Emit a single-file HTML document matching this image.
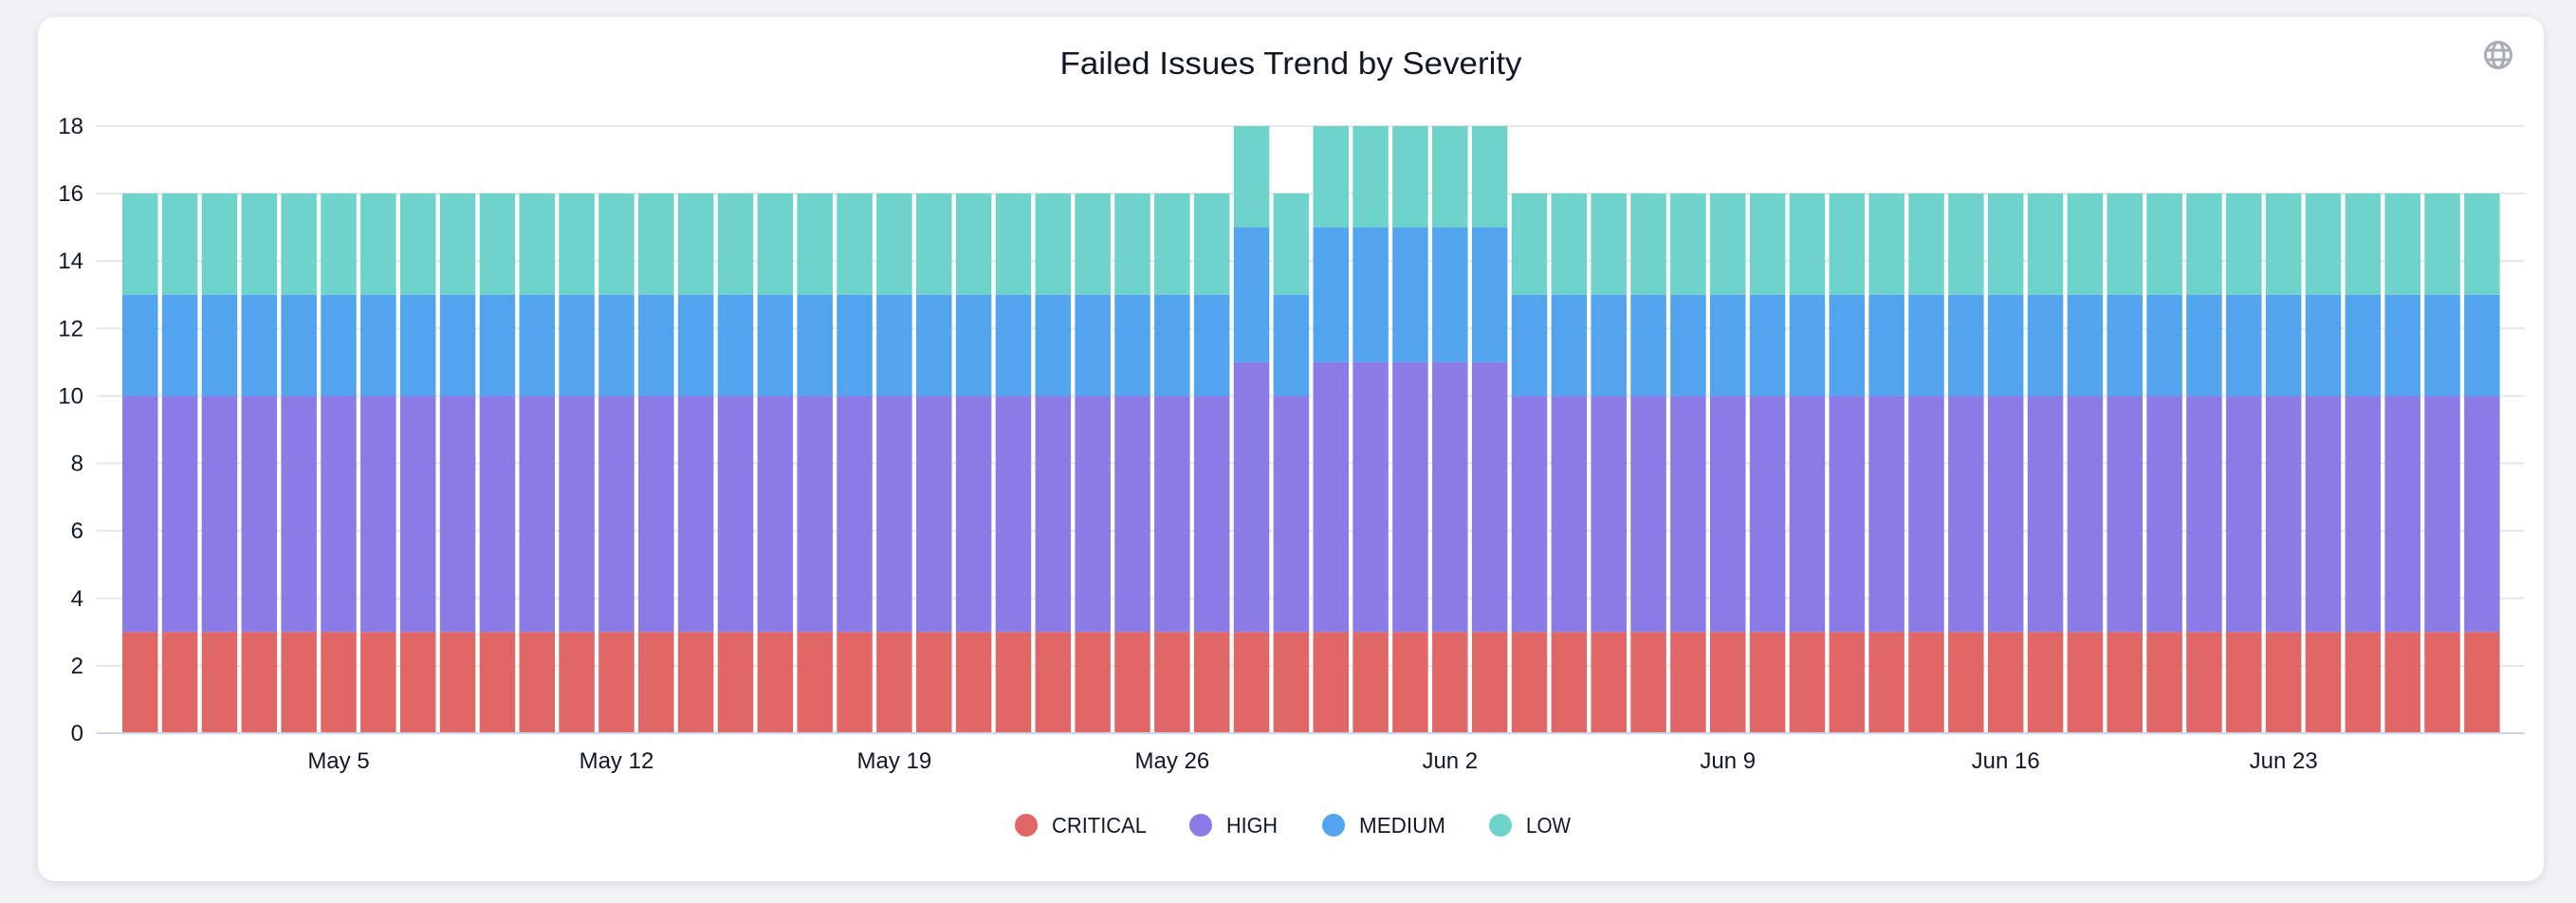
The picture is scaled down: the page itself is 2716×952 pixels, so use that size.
<!DOCTYPE html>
<html><head><meta charset="utf-8"><style>
html,body{margin:0;padding:0;width:2716px;height:952px;background:#f1f2f3;overflow:hidden}
#card{position:absolute;left:40px;top:18px;width:2642px;height:911px;background:#fff;border-radius:18px;box-shadow:0 2px 10px rgba(0,0,0,0.10)}
svg{position:absolute;left:0;top:0}
text{font-family:"Liberation Sans",sans-serif;fill:#101828}
</style></head><body>
<div id="card"></div>
<svg width="2716" height="952" viewBox="0 0 2716 952">
<text x="1361" y="78" font-size="33" text-anchor="middle" textLength="487" lengthAdjust="spacingAndGlyphs">Failed Issues Trend by Severity</text>
<g fill="none" stroke="#a9adb5" stroke-width="3">
<circle cx="2634" cy="58" r="13.5"/>
<ellipse cx="2634" cy="58" rx="6" ry="13.5"/>
<line x1="2621" y1="53" x2="2647" y2="53"/><line x1="2621" y1="63" x2="2647" y2="63"/>
</g>
<g id="grid" stroke="#e6e6e6" stroke-width="2"></g>
<g id="ylab" font-size="24"></g>
<g id="bars"></g>
<line x1="102" y1="773" x2="2662" y2="773" stroke="#ccd6eb" stroke-width="2"/>
<g id="xlab" font-size="24" text-anchor="middle"></g>
<g font-size="23">
<circle cx="1082" cy="870" r="12" fill="#e16767"/><text x="1109" y="878" textLength="100" lengthAdjust="spacingAndGlyphs">CRITICAL</text>
<circle cx="1266" cy="870" r="12" fill="#8a7be6"/><text x="1293" y="878" textLength="54" lengthAdjust="spacingAndGlyphs">HIGH</text>
<circle cx="1406" cy="870" r="12" fill="#52a4ee"/><text x="1433" y="878" textLength="91" lengthAdjust="spacingAndGlyphs">MEDIUM</text>
<circle cx="1582" cy="870" r="12" fill="#6dd3cb"/><text x="1609" y="878" textLength="47" lengthAdjust="spacingAndGlyphs">LOW</text>
</g>
</svg>
<script>
var NS="http://www.w3.org/2000/svg";
function el(p,t,a,txt){var e=document.createElementNS(NS,t);for(var k in a)e.setAttribute(k,a[k]);if(txt!==undefined)e.textContent=txt;document.getElementById(p).appendChild(e);}
var y0=773,u=35.56;
for(var v=2;v<=18;v+=2){var y=y0-v*u;el("grid","line",{x1:102,y1:y,x2:2662,y2:y});}
for(var v=0;v<=18;v+=2){el("ylab","text",{x:88,y:y0-v*u+8,"text-anchor":"end"},String(v));}
var cols=["#e16767","#8a7be6","#52a4ee","#6dd3cb"];
var tall={28:1,30:1,31:1,32:1,33:1,34:1};
for(var i=0;i<60;i++){
 var x=129+i*41.85;var vals=tall[i]?[3,8,4,3]:[3,7,3,3];var acc=0;
 for(var s=0;s<4;s++){var yt=y0-(acc+vals[s])*u,yb=y0-acc*u;
  el("bars","rect",{x:x,y:yt,width:37.5,height:yb-yt,fill:cols[s]});acc+=vals[s];}
}
var labs=["May 5","May 12","May 19","May 26","Jun 2","Jun 9","Jun 16","Jun 23"];
for(var j=0;j<labs.length;j++){el("xlab","text",{x:147.75+(5+7*j)*41.85,y:810},labs[j]);}
</script>
</body></html>
